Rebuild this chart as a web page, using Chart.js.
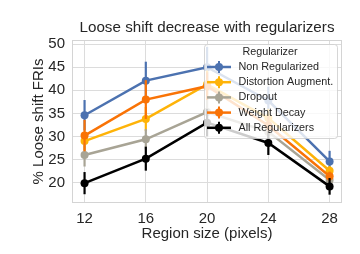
<!DOCTYPE html>
<html>
<head>
<meta charset="utf-8">
<script src="https://cdn.jsdelivr.net/npm/chart.js@4.4.0/dist/chart.umd.min.js"></script>
<style>
  html, body { margin: 0; padding: 0; background: #fff; }
</style>
</head>
<body>
<canvas id="chart-loose" width="360" height="254"></canvas>
<script>
// data
var regionSize = [12, 16, 20, 24, 28];
var seriesNames = ["Non Regularized", "Distortion Augment.", "Dropout", "Weight Decay", "All Regularizers"];
var seriesColors = ["#4C72B0", "#FEB308", "#A8A495", "#F97306", "#000000"];

var nonRegularized = [34.6, 42.1, 45.0, 37.8, 24.6];
var nonRegularizedErr = [3.3, 4.1, 4.4, 3.0, 2.3];
var distortionAug = [29.0, 33.8, 41.3, 34.0, 22.6];
var distortionAugErr = [2.0, 2.6, 3.0, 2.0, 1.0];
var dropout = [26.0, 29.4, 35.3, 31.0, 20.6];
var dropoutErr = [2.5, 2.2, 3.0, 2.0, 1.0];
var weightDecay = [30.2, 38.0, 40.9, 32.4, 21.4];
var weightDecayErr = [3.4, 4.2, 3.0, 2.0, 1.0];
var allRegularizers = [19.9, 25.2, 33.0, 28.6, 19.2];
var allRegularizersErr = [2.4, 2.6, 3.0, 2.6, 1.8];

var xTicks = [12, 16, 20, 24, 28];
var yTicks = [20, 25, 30, 35, 40, 45, 50];

var textColor = "#262626";
var fontName = '"Liberation Sans", Arial, sans-serif';

var seriesValues = [nonRegularized, distortionAug, dropout, weightDecay, allRegularizers];
var seriesErrors = [nonRegularizedErr, distortionAugErr, dropoutErr, weightDecayErr, allRegularizersErr];

var datasets = seriesNames.map(function (name, i) {
  return {
    label: name,
    data: regionSize.map(function (x, j) { return { x: x, y: seriesValues[i][j] }; }),
    errors: seriesErrors[i],
    borderColor: seriesColors[i],
    backgroundColor: seriesColors[i],
    borderWidth: 2.5,
    pointRadius: 4,
    pointBorderWidth: 0,
    tension: 0,
    order: seriesNames.length - i
  };
});

// vertical error bars, drawn with each dataset
const errorBars = {
  id: 'errorBars',
  afterDatasetDraw(chart, args) {
    const ds = chart.data.datasets[args.index];
    const ctx = chart.ctx;
    const xs = chart.scales.x, ys = chart.scales.y;
    ctx.save();
    ctx.strokeStyle = ds.borderColor;
    ctx.lineWidth = 2.2;
    ds.data.forEach(function (p, i) {
      const px = xs.getPixelForValue(p.x);
      ctx.beginPath();
      ctx.moveTo(px, ys.getPixelForValue(p.y - ds.errors[i]));
      ctx.lineTo(px, ys.getPixelForValue(p.y + ds.errors[i]));
      ctx.stroke();
    });
    ctx.restore();
  }
};

// light frame round the plot
const frame = {
  id: 'frame',
  beforeDatasetsDraw(chart) {
    const a = chart.chartArea, ctx = chart.ctx;
    ctx.save();
    ctx.strokeStyle = '#d4d4d4';
    ctx.lineWidth = 1;
    ctx.strokeRect(a.left + 0.5, a.top + 0.5, a.right - a.left - 1, a.bottom - a.top - 1);
    ctx.restore();
  }
};

// title centred over the plot area, legend inside top right
const titleAndLegend = {
  id: 'titleAndLegend',
  afterDraw(chart) {
    const a = chart.chartArea, ctx = chart.ctx;
    ctx.save();
    ctx.fillStyle = textColor;
    ctx.font = '15.2px ' + fontName;
    ctx.textAlign = 'center';
    ctx.textBaseline = 'alphabetic';
    ctx.fillText('Loose shift decrease with regularizers', (a.left + a.right) / 2, 31.5);

    // legend box
    const bx = 204, by = 44, bw = 133, bh = 94;
    ctx.beginPath();
    ctx.roundRect(bx + 0.5, by + 0.5, bw, bh, 3);
    ctx.fillStyle = 'rgba(255,255,255,0.8)';
    ctx.fill();
    ctx.strokeStyle = 'rgba(204,204,204,0.8)';
    ctx.lineWidth = 1;
    ctx.stroke();

    ctx.fillStyle = textColor;
    ctx.font = '10.8px ' + fontName;
    ctx.textBaseline = 'middle';
    ctx.fillText('Regularizer', 270, 52.5);

    ctx.textAlign = 'left';
    chart.data.datasets.forEach(function (ds, i) {
      const cy = 67 + i * 15.2;
      ctx.strokeStyle = ds.borderColor;
      ctx.lineWidth = 2.5;
      ctx.beginPath();
      ctx.moveTo(207, cy);
      ctx.lineTo(231, cy);
      ctx.stroke();
      ctx.lineWidth = 2;
      ctx.beginPath();
      ctx.moveTo(219, cy - 6);
      ctx.lineTo(219, cy + 6);
      ctx.stroke();
      ctx.fillStyle = ds.borderColor;
      ctx.beginPath();
      ctx.arc(219, cy, 4, 0, Math.PI * 2);
      ctx.fill();
      ctx.fillStyle = textColor;
      ctx.fillText(ds.label, 238.5, cy);
    });
    ctx.restore();
  }
};

var ctx = document.getElementById("chart-loose").getContext("2d");
var chart = new Chart(ctx, {
  type: "line",
  data: { datasets: datasets },
  options: {
    responsive: false,
    animation: false,
    layout: { padding: { top: 40, right: 18, left: 0, bottom: 0 } },
    scales: {
      x: {
        type: 'linear',
        min: 11.18,
        max: 28.81,
        afterBuildTicks: function (scale) {
          scale.ticks = xTicks.map(function (v) { return { value: v }; });
        },
        afterFit: function (scale) { scale.height = 51; },
        grid: { color: '#dcdcdc', lineWidth: 1, drawTicks: false },
        border: { display: false },
        ticks: { color: textColor, font: { family: fontName, size: 15 }, padding: 6.5, maxRotation: 0 },
        title: {
          display: true,
          text: 'Region size (pixels)',
          color: textColor,
          font: { family: fontName, size: 15 },
          padding: { top: 0, bottom: 11.5 }
        }
      },
      y: {
        min: 15.6,
        max: 50.9,
        afterBuildTicks: function (scale) {
          scale.ticks = yTicks.map(function (v) { return { value: v }; });
        },
        afterFit: function (scale) { scale.width = 72; },
        grid: { color: '#dcdcdc', lineWidth: 1, drawTicks: false },
        border: { display: false },
        ticks: { color: textColor, font: { family: fontName, size: 15 }, padding: 7 },
        title: {
          display: true,
          text: '% Loose shift FRIs',
          color: textColor,
          font: { family: fontName, size: 15 },
          padding: { top: 30, bottom: 0 }
        }
      }
    },
    plugins: {
      legend: { display: false },
      title: { display: false },
      tooltip: { enabled: false }
    }
  },
  plugins: [frame, errorBars, titleAndLegend]
});
</script>
</body>
</html>
